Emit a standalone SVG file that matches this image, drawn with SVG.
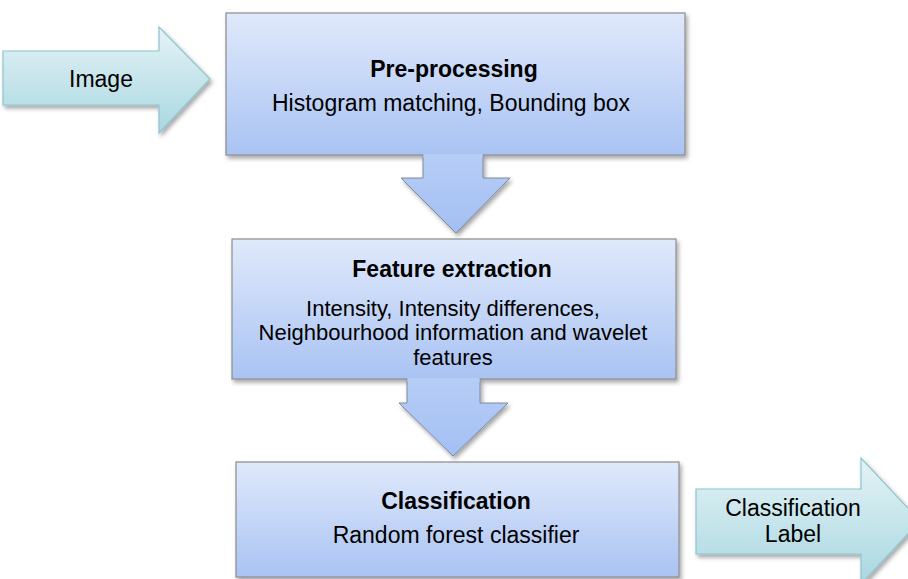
<svg xmlns="http://www.w3.org/2000/svg" width="908" height="579" viewBox="0 0 908 579">
<defs>
<linearGradient id="gBox" x1="0" y1="0" x2="0" y2="1">
<stop offset="0" stop-color="#e0e9fb"/>
<stop offset="1" stop-color="#a9c3f3"/>
</linearGradient>
<linearGradient id="gDown" x1="0" y1="0" x2="0" y2="1">
<stop offset="0" stop-color="#b6cdf6"/>
<stop offset="1" stop-color="#a3bff3"/>
</linearGradient>
<linearGradient id="gSide" x1="0" y1="0" x2="0" y2="1">
<stop offset="0" stop-color="#e4f3f6"/>
<stop offset="1" stop-color="#a9d7e1"/>
</linearGradient>
<filter id="sh" x="-10%" y="-10%" width="130%" height="130%">
<feDropShadow dx="2" dy="3" stdDeviation="2" flood-color="#000" flood-opacity="0.35"/>
</filter>
</defs>
<style>
.box{fill:url(#gBox);stroke:#8c8c8c;stroke-width:1.2;filter:url(#sh)}
.down{fill:url(#gDown);stroke:#7f8aa0;stroke-width:1;filter:url(#sh)}
.side{fill:url(#gSide);stroke:#8ec3cf;stroke-width:1.2;filter:url(#sh)}
text{font-family:"Liberation Sans",Arial,sans-serif;fill:#000;text-anchor:middle}
.t{font-weight:bold;font-size:23px}
.s{font-size:23px}
.m{font-size:22px}
</style>
<g id="connectors">
<g id="arrow-image">
<path class="side" d="M3,51 L159,51 L159,27 L210,79 L159,133 L159,105 L3,105 Z"/>
<text class="s" x="101" y="87">Image</text>
</g>
<g id="arrow-label">
<path class="side" d="M696,489 L861,489 L861,458 L920,521 L861,584 L861,554 L696,554 Z"/>
<text class="s" x="793" y="516">Classification</text>
<text class="s" x="793" y="542">Label</text>
</g>
</g>
<g id="node-preprocessing">
<rect class="box" x="226" y="13" width="459" height="142"/>
<text class="t" x="454" y="77">Pre-processing</text>
<text class="s" x="451" y="111">Histogram matching, Bounding box</text>
</g>
<g id="node-feature">
<rect class="box" x="232" y="239" width="444" height="140"/>
<text class="t" x="452" y="277">Feature extraction</text>
<text class="m" x="453" y="315.5">Intensity, Intensity differences,</text>
<text class="m" x="453" y="340">Neighbourhood information and wavelet</text>
<text class="m" x="453" y="364.5">features</text>
</g>
<g id="node-classification">
<rect class="box" x="236" y="462" width="443" height="115"/>
<text class="t" x="456" y="509">Classification</text>
<text class="s" x="456" y="543">Random forest classifier</text>
</g>
<g id="connectors-down">
<path class="down" d="M423,155 L423,178 L401,178 L456,233 L510,178 L483,178 L483,155"/>
<path d="M423.5,154 L482.5,154 L482.5,158 L423.5,158 Z" fill="#b6cdf6"/>
<path class="down" d="M407,379 L407,403 L399,403 L453,456 L508,403 L480,403 L480,379"/>
<path d="M407.5,378 L479.5,378 L479.5,382 L407.5,382 Z" fill="#b6cdf6"/>
</g>
</svg>
